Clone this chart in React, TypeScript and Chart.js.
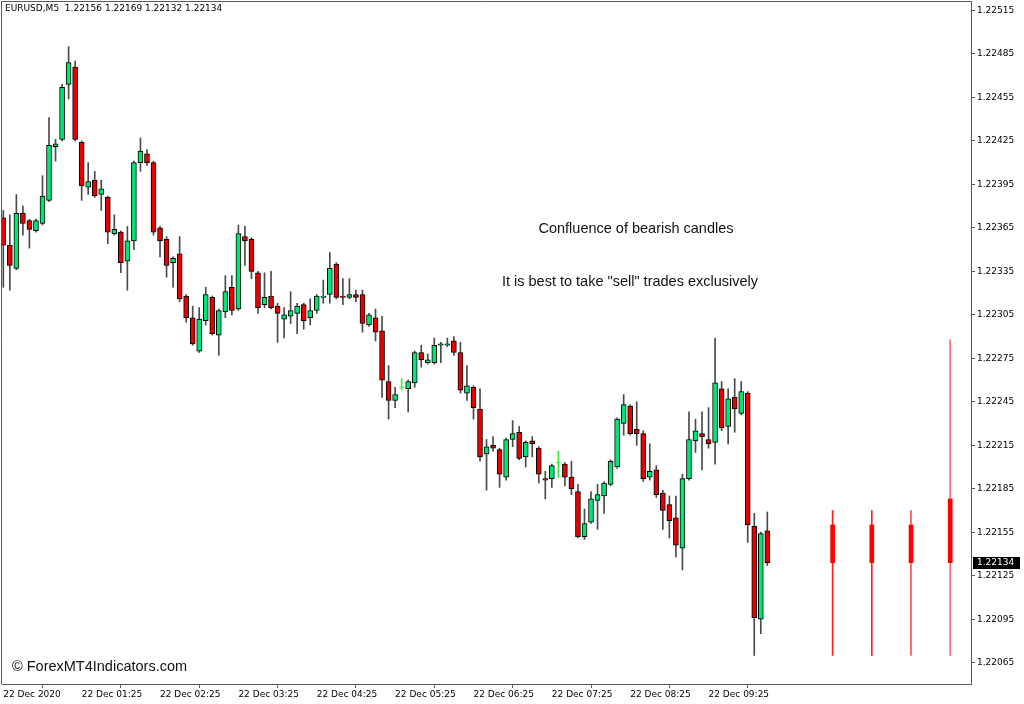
import React, { useEffect, useRef } from "react";
import { Chart, registerables } from "chart.js";

Chart.register(...registerables);

// ---- data (EURUSD M5) ----
const opens = [
  1.22372, 1.22353, 1.22337, 1.22375, 1.2237, 1.22363, 1.22368, 1.22384, 1.22421, 1.22426,
  1.22464, 1.22476, 1.22424, 1.22393, 1.22398, 1.22388, 1.22386, 1.22361, 1.22362, 1.22342,
  1.22356, 1.2241, 1.22416, 1.2241, 1.22365, 1.22357, 1.22341, 1.22347, 1.22318, 1.22303,
  1.2228, 1.22301, 1.22317, 1.22291, 1.22307, 1.22324, 1.22309, 1.22359, 1.22357, 1.22334,
  1.22312, 1.22318, 1.22311, 1.22302, 1.22304, 1.22306, 1.22312, 1.22303, 1.22308, 1.22317,
  1.22319, 1.2234, 1.22318, 1.22317, 1.22319, 1.22319, 1.22298, 1.22303, 1.22294, 1.22259,
  1.22246, 1.22255, 1.22254, 1.22258, 1.22279, 1.22272, 1.22272, 1.22284, 1.22284, 1.22287,
  1.22279, 1.22251, 1.22255, 1.2224, 1.22209, 1.22215, 1.22212, 1.22193, 1.22219, 1.22224,
  1.22207, 1.22218, 1.22213, 1.22192, 1.22192, 1.22203, 1.22202, 1.22193, 1.22183, 1.22152,
  1.22162, 1.22177, 1.2218, 1.22188, 1.222, 1.2223, 1.22242, 1.22226, 1.22223, 1.22193,
  1.22198, 1.22182, 1.22174, 1.22165, 1.22144, 1.22192, 1.22218, 1.22223, 1.22219, 1.22217,
  1.22254, 1.22228, 1.22248, 1.22237, 1.22251, 1.22159, 1.22095, 1.22156,
];
const highs = [
  1.22377, 1.22374, 1.22388, 1.2238, 1.22371, 1.22371, 1.22401, 1.22441, 1.22426, 1.22464,
  1.2249, 1.2248, 1.22425, 1.2241, 1.22404, 1.22398, 1.22387, 1.22374, 1.22363, 1.22366,
  1.22411, 1.22427, 1.22419, 1.22411, 1.22366, 1.22359, 1.22345, 1.22359, 1.22319, 1.22311,
  1.2231, 1.22324, 1.22318, 1.22309, 1.22332, 1.22332, 1.22367, 1.22366, 1.22358, 1.22335,
  1.22334, 1.22335, 1.22313, 1.2231, 1.22321, 1.22313, 1.22313, 1.22316, 1.22319, 1.22329,
  1.22348, 1.22341, 1.2233, 1.2233, 1.22322, 1.22322, 1.22306, 1.22309, 1.22304, 1.2227,
  1.22255, 1.22261, 1.2226, 1.2228, 1.22284, 1.22278, 1.22289, 1.22286, 1.22289, 1.2229,
  1.22286, 1.2227, 1.22256, 1.22254, 1.22219, 1.22221, 1.22213, 1.2222, 1.22232, 1.22228,
  1.22218, 1.22221, 1.22214, 1.22197, 1.22202, 1.22211, 1.22203, 1.22204, 1.22188, 1.22171,
  1.22183, 1.22188, 1.2219, 1.22205, 1.22234, 1.2225, 1.22243, 1.22245, 1.22225, 1.22216,
  1.22201, 1.22184, 1.2218, 1.2218, 1.22195, 1.22238, 1.22233, 1.22238, 1.22241, 1.22289,
  1.22259, 1.22254, 1.22261, 1.22259, 1.22252, 1.22168, 1.22155, 1.22169,
];
const lows = [
  1.22324, 1.22322, 1.22336, 1.2236, 1.22351, 1.22362, 1.22367, 1.22383, 1.22411, 1.22425,
  1.22454, 1.22425, 1.22384, 1.22388, 1.22386, 1.22377, 1.22354, 1.2236, 1.22334, 1.22322,
  1.2235, 1.22404, 1.22408, 1.2236, 1.22345, 1.22331, 1.22324, 1.22314, 1.223, 1.22284,
  1.22279, 1.22298, 1.22291, 1.22277, 1.22303, 1.22305, 1.22308, 1.22339, 1.2233, 1.22306,
  1.2231, 1.22309, 1.22286, 1.22289, 1.22299, 1.22292, 1.22295, 1.22298, 1.22306, 1.22313,
  1.22313, 1.22316, 1.22312, 1.22316, 1.22314, 1.22293, 1.22297, 1.22287, 1.22248, 1.22233,
  1.22241, 1.22253, 1.22238, 1.22255, 1.22269, 1.22271, 1.22271, 1.22272, 1.22283, 1.22277,
  1.22251, 1.22246, 1.22233, 1.22204, 1.22184, 1.22211, 1.22186, 1.22191, 1.22214, 1.22205,
  1.222, 1.22207, 1.22189, 1.22178, 1.22186, 1.22193, 1.22187, 1.22181, 1.22151, 1.2215,
  1.22161, 1.22157, 1.22168, 1.22187, 1.22199, 1.22222, 1.22222, 1.22215, 1.2219, 1.22191,
  1.22179, 1.22157, 1.22151, 1.22138, 1.22129, 1.22191, 1.2221, 1.22198, 1.22213, 1.22202,
  1.22225, 1.22216, 1.22224, 1.22236, 1.22148, 1.2207, 1.22085, 1.22132,
];
const closes = [
  1.22353, 1.22339, 1.22375, 1.22368, 1.22364, 1.2237, 1.22387, 1.22422, 1.22423, 1.22462,
  1.22479, 1.22426, 1.22394, 1.22397, 1.22387, 1.22392, 1.22362, 1.22364, 1.22341, 1.22356,
  1.2241, 1.22418, 1.2241, 1.22362, 1.22356, 1.22339, 1.22344, 1.22316, 1.22303, 1.22285,
  1.22302, 1.22319, 1.22292, 1.22308, 1.22321, 1.22308, 1.22361, 1.22356, 1.22335, 1.2231,
  1.22317, 1.2231, 1.22306, 1.22305, 1.22308, 1.22311, 1.22301, 1.22308, 1.22318, 1.22318,
  1.22337, 1.22317, 1.22317, 1.22319, 1.22317, 1.22299, 1.22305, 1.22293, 1.2226, 1.22246,
  1.2225, 1.22255, 1.22259, 1.22279, 1.22274, 1.22274, 1.22284, 1.22285, 1.22285, 1.22279,
  1.22253, 1.22256, 1.22241, 1.22207, 1.22214, 1.22213, 1.22195, 1.22219, 1.22223, 1.22206,
  1.22217, 1.22216, 1.22195, 1.22191, 1.22201, 1.22203, 1.22193, 1.22185, 1.22152, 1.22161,
  1.22178, 1.22181, 1.22189, 1.22204, 1.22233, 1.22243, 1.22223, 1.22223, 1.22192, 1.22197,
  1.22181, 1.2217, 1.22163, 1.22146, 1.22192, 1.22219, 1.22225, 1.22221, 1.22216, 1.22258,
  1.22227, 1.22247, 1.2224, 1.22252, 1.2216, 1.22096, 1.22154, 1.22134,
];

// projected (indicator) candles drawn to the right of the last bar
const projIndex = [127, 133, 139, 145];
const projOpen = [1.2216, 1.2216, 1.2216, 1.22178];
const projHigh = [1.2217, 1.2217, 1.2217, 1.22288];
const projLow = [1.2207, 1.2207, 1.2207, 1.2207];
const projClose = [1.22134, 1.22134, 1.22134, 1.22134];

const priceTicks = [
  1.22065, 1.22095, 1.22125, 1.22155, 1.22185, 1.22215, 1.22245, 1.22275,
  1.22305, 1.22335, 1.22365, 1.22395, 1.22425, 1.22455, 1.22485, 1.22515,
];
const timeTickIndex = [0, 12, 24, 36, 48, 60, 72, 84, 96, 108];
const timeLabels = [
  "22 Dec 2020", "22 Dec 01:25", "22 Dec 02:25", "22 Dec 03:25", "22 Dec 04:25",
  "22 Dec 05:25", "22 Dec 06:25", "22 Dec 07:25", "22 Dec 08:25", "22 Dec 09:25",
];

const symbolTitle = "EURUSD,M5";
const noteLines = ["Confluence of bearish candles", 'It is best to take "sell" trades exclusively'];
const watermark = "\u00A9 ForexMT4Indicators.com";

// ---- styles ----
const BULL = "#00e676";
const BEAR = "#e80000";
const WICK = "#4a4a4a";
const DOJI = "#3cee3c";
const AXIS = "#5a5a5a";
const UI_FONT = "'DejaVu Sans', sans-serif";
const NOTE_FONT = "'Liberation Sans', Arial, sans-serif";

export default function App() {
  const ref = useRef<HTMLCanvasElement>(null);

  useEffect(() => {
    document.body.style.margin = "0";
    const idx = opens.map((_, i) => i);
    const isDoji = (i: number) => opens[i] === closes[i];
    const bodyIdx = idx.filter((i) => !isDoji(i));
    const dojiIdx = idx.filter((i) => isDoji(i));
    const last = closes.length - 1;

    const overlay = {
      id: "overlay",
      afterDraw(chart: any) {
        const { ctx, chartArea: a, scales } = chart;
        const y = scales.y;
        ctx.save();
        // frame (left + top)
        ctx.strokeStyle = AXIS;
        ctx.lineWidth = 1;
        ctx.beginPath();
        ctx.moveTo(a.left - 0.5, a.bottom);
        ctx.lineTo(a.left - 0.5, a.top + 0.5);
        ctx.lineTo(a.right, a.top + 0.5);
        ctx.stroke();
        // symbol / OHLC title
        ctx.fillStyle = "#000";
        ctx.font = `9px ${UI_FONT}`;
        ctx.textAlign = "left";
        ctx.textBaseline = "alphabetic";
        ctx.fillText(
          `${symbolTitle}  ${opens[last].toFixed(5)} ${highs[last].toFixed(5)} ${lows[last].toFixed(5)} ${closes[last].toFixed(5)}`,
          a.left + 3,
          a.top + 10
        );
        // notes
        ctx.font = `14.5px ${NOTE_FONT}`;
        ctx.textAlign = "center";
        ctx.textBaseline = "middle";
        ctx.fillStyle = "#111";
        ctx.fillText(noteLines[0], 636, 229);
        ctx.fillText(noteLines[1], 630, 282);
        // watermark
        ctx.textAlign = "left";
        ctx.fillText(watermark, 12, 667);
        // last price marker
        const yy = Math.round(y.getPixelForValue(closes[last]));
        ctx.fillStyle = "#000";
        ctx.fillRect(a.right + 2, yy - 6, 47, 12);
        ctx.fillStyle = "#fff";
        ctx.font = `9px ${UI_FONT}`;
        ctx.textBaseline = "middle";
        ctx.fillText(closes[last].toFixed(5), a.right + 6, yy);
        ctx.restore();
      },
    };

    const chart = new Chart(ref.current as HTMLCanvasElement, {
      type: "bar",
      data: {
        datasets: [
          {
            type: "scatter",
            label: "doji",
            data: dojiIdx.map((i) => ({ x: i, y: opens[i] })),
            pointStyle: "line",
            pointRadius: 2.5,
            borderColor: DOJI,
            backgroundColor: DOJI,
            borderWidth: 1,
            showLine: false,
            order: 1,
          } as any,
          {
            type: "bar",
            label: "body",
            data: bodyIdx.map((i) => ({ x: i, y: [opens[i], closes[i]] })),
            backgroundColor: bodyIdx.map((i) => (closes[i] > opens[i] ? BULL : BEAR)),
            borderColor: "#000",
            borderWidth: 1,
            borderSkipped: false,
            barThickness: 5,
            grouped: false,
            order: 2,
          } as any,
          {
            type: "bar",
            label: "wick",
            data: idx.map((i) => ({ x: i, y: [lows[i], highs[i]] })),
            backgroundColor: idx.map((i) => (isDoji(i) ? DOJI : WICK)),
            borderWidth: 0,
            barThickness: 1,
            grouped: false,
            order: 3,
          } as any,
          {
            type: "bar",
            label: "projBody",
            data: projIndex.map((x, k) => ({ x, y: [projOpen[k], projClose[k]] })),
            backgroundColor: "#ff0000",
            borderWidth: 0,
            barThickness: 4,
            grouped: false,
            order: 2,
          } as any,
          {
            type: "bar",
            label: "projWick",
            data: projIndex.map((x, k) => ({ x, y: [projLow[k], projHigh[k]] })),
            backgroundColor: ["#ff2020", "#ff2020", "#ff5050", "#ff7070"],
            borderWidth: 0,
            barThickness: 1,
            grouped: false,
            order: 3,
          } as any,
        ],
      },
      options: {
        responsive: false,
        animation: false,
        events: [],
        layout: { autoPadding: false, padding: { left: 2, top: 1, right: 0, bottom: 0 } },
        plugins: {
          legend: { display: false },
          tooltip: { enabled: false },
          title: { display: false },
        },
        scales: {
          x: {
            type: "linear",
            min: -0.2,
            max: 148.19,
            offset: false,
            afterBuildTicks: (s: any) => {
              s.ticks = timeTickIndex.map((v) => ({ value: v }));
            },
            afterFit: (s: any) => {
              s.height = 20;
              s.paddingLeft = 0;
              s.paddingRight = 0;
            },
            grid: { display: true, drawOnChartArea: false, drawTicks: true, tickLength: 4, color: AXIS },
            border: { display: true, color: AXIS },
            ticks: {
              autoSkip: false,
              maxRotation: 0,
              minRotation: 0,
              align: "start",
              padding: 1,
              color: "#000",
              font: { family: UI_FONT, size: 9 },
              callback: (v: any) => {
                const k = timeTickIndex.indexOf(Number(v));
                return k >= 0 ? timeLabels[k] : "";
              },
            },
          },
          y: {
            type: "linear",
            position: "right",
            min: 1.220503,
            max: 1.2252151,
            afterBuildTicks: (s: any) => {
              s.ticks = priceTicks.map((v) => ({ value: v }));
            },
            afterFit: (s: any) => {
              s.width = 53;
              s.paddingTop = 0;
              s.paddingBottom = 0;
            },
            grid: { display: true, drawOnChartArea: false, drawTicks: true, tickLength: 4, color: AXIS },
            border: { display: true, color: AXIS },
            ticks: {
              autoSkip: false,
              padding: 2,
              color: "#000",
              font: { family: UI_FONT, size: 9 },
              callback: (v: any) => Number(v).toFixed(5),
            },
          },
        },
      } as any,
      plugins: [overlay],
    });
    return () => chart.destroy();
  }, []);

  return (
    <div style={{ width: 1024, height: 704, background: "#fff" }}>
      <canvas ref={ref} width={1024} height={704} style={{ display: "block" }} />
    </div>
  );
}
